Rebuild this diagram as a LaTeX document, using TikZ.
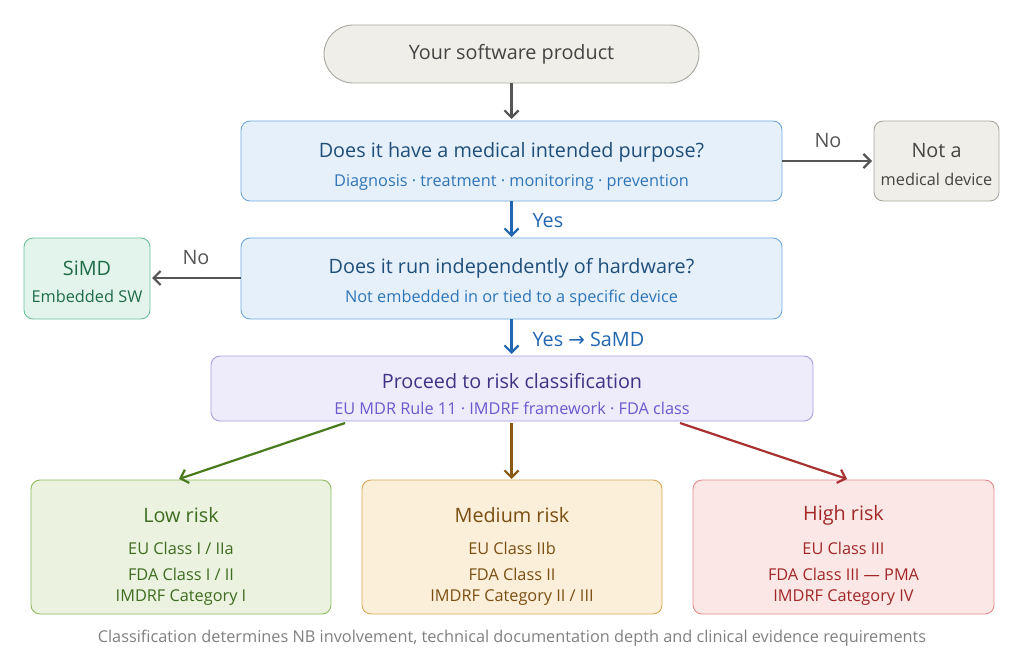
\documentclass[tikz,border=0pt]{standalone}
\usepackage{fontspec}
\setmainfont{Open Sans}
\newfontfamily\djv{DejaVu Sans}
\usetikzlibrary{arrows.meta}
\definecolor{gbd}{HTML}{A8A8A0}\definecolor{gfl}{HTML}{EFEEE8}
\definecolor{bbd}{HTML}{6FA8DC}\definecolor{bfl}{HTML}{E6F0FB}
\definecolor{btx}{HTML}{1F4E79}\definecolor{bst}{HTML}{2E75B6}
\definecolor{sbd}{HTML}{6CC09A}\definecolor{sfl}{HTML}{E3F4EC}\definecolor{stx}{HTML}{1E6B47}
\definecolor{pbd}{HTML}{A89EE0}\definecolor{pfl}{HTML}{EEEBFB}\definecolor{ptx}{HTML}{3F3385}\definecolor{pst}{HTML}{6A5ACD}
\definecolor{lbd}{HTML}{8DBB5E}\definecolor{lfl}{HTML}{EBF3E0}\definecolor{ltx}{HTML}{3D6B1F}\definecolor{lar}{HTML}{4A7A1E}
\definecolor{mbd}{HTML}{D9A85B}\definecolor{mfl}{HTML}{FCEFD9}\definecolor{mtx}{HTML}{7A4E12}\definecolor{mar}{HTML}{8A5A14}
\definecolor{hbd}{HTML}{E08A8A}\definecolor{hfl}{HTML}{FCE7E7}\definecolor{htx}{HTML}{A12727}\definecolor{har}{HTML}{A83232}
\definecolor{arr}{HTML}{555555}\definecolor{barr}{HTML}{2366B0}
\tikzset{
 box/.style={draw=#1,line width=0.9pt,rounded corners=9pt},
 ga/.style={draw=arr,line width=2.2pt,-{Straight Barb[length=7pt,width=14pt]}},
 ca/.style={draw=#1,line width=2.2pt,-{Straight Barb[length=7pt,width=14pt]}},
 t18/.style={font=\fontsize{19.8}{22}\selectfont},
 t15/.style={font=\fontsize{16.3}{18}\selectfont},
}
\begin{document}
\begin{tikzpicture}[x=1pt,y=-1pt]
\useasboundingbox (0,0) rectangle (1024,663);
\filldraw[box=gbd,fill=gfl,rounded corners=29pt] (324,25) rectangle (699,83);
\node[t18,text=arr!80!black] (top) at (511.5,54) {Your software product};
\coordinate (topb) at (511.5,83);
\filldraw[box=bbd,fill=bfl] (241,121) rectangle (782,201);
\node[t18,text=btx] (q1) at (511.5,152) {Does it have a medical intended purpose?};
\node[t15,text=bst] (q1s) at (511.5,182) {Diagnosis · treatment · monitoring · prevention};
\filldraw[box=gbd,fill=gfl] (874,121) rectangle (999,201);
\node[t18,text=arr!80!black] (nmd) at (936.5,151) {Not a};
\node[t15,text=arr!80!black] (nmd2) at (936.5,179) {medical device};
\filldraw[box=bbd,fill=bfl] (241,238) rectangle (782,319);
\node[t18,text=btx] (q2) at (511.5,268) {Does it run independently of hardware?};
\node[t15,text=bst] (q2s) at (511.5,298) {Not embedded in or tied to a specific device};
\filldraw[box=sbd,fill=sfl] (24,238) rectangle (150,319);
\node[t18,text=stx] (simd) at (87,268) {SiMD};
\node[t15,text=stx] (simd2) at (87,296) {Embedded SW};
\filldraw[box=pbd,fill=pfl] (211,356) rectangle (813,421);
\node[t18,text=ptx] (rc) at (512,381) {Proceed to risk classification};
\node[t15,text=pst] (rc2) at (512,408) {EU MDR Rule 11 · IMDRF framework · FDA class};
\filldraw[box=lbd,fill=lfl] (31,480) rectangle (331,614);
\node[t18,text=ltx] (lo) at (181,515) {Low risk};
\node[t15,text=ltx] at (181,548) {EU Class I / IIa};
\node[t15,text=ltx] at (181,574) {FDA Class I / II};
\node[t15,text=ltx] at (181,598) {IMDRF Category I};
\filldraw[box=mbd,fill=mfl] (362,480) rectangle (662,614);
\node[t18,text=mtx] (me) at (512,515) {Medium risk};
\node[t15,text=mtx] at (512,548) {EU Class IIb};
\node[t15,text=mtx] at (512,574) {FDA Class II};
\node[t15,text=mtx] at (512,598) {IMDRF Category II / III};
\filldraw[box=hbd,fill=hfl] (693,480) rectangle (994,614);
\node[t18,text=htx] (hi) at (843.5,515) {High risk};
\node[t15,text=htx] at (843.5,548) {EU Class III};
\node[t15,text=htx] at (843.5,574) {FDA Class III — PMA};
\node[t15,text=htx] at (843.5,598) {IMDRF Category IV};
\node[t15,text=gray] (foot) at (512,638) {Classification determines NB involvement, technical documentation depth and clinical evidence requirements};
% connectors
\draw[ga] (topb) -- (511.5,119);
\draw[ga] (782,161) -- (872,161);
\node[t18,text=arr] at (828,141) {No};
\draw[ca=barr] (511.5,201) -- (511.5,237);
\node[t18,text=barr,anchor=west] at (529,221) {Yes};
\draw[ga] (241,278) -- (152,278);
\node[t18,text=arr] at (196,258) {No};
\draw[ca=barr] (511.5,319) -- (511.5,354);
\node[t18,text=barr,anchor=west] at (529,339) {Yes {\djv →} SaMD};
\draw[ca=lar] (345,423) -- (179,479);
\draw[ca=mar] (511.5,423) -- (511.5,479);
\draw[ca=har] (680,423) -- (847,479);
\end{tikzpicture}
\end{document}
